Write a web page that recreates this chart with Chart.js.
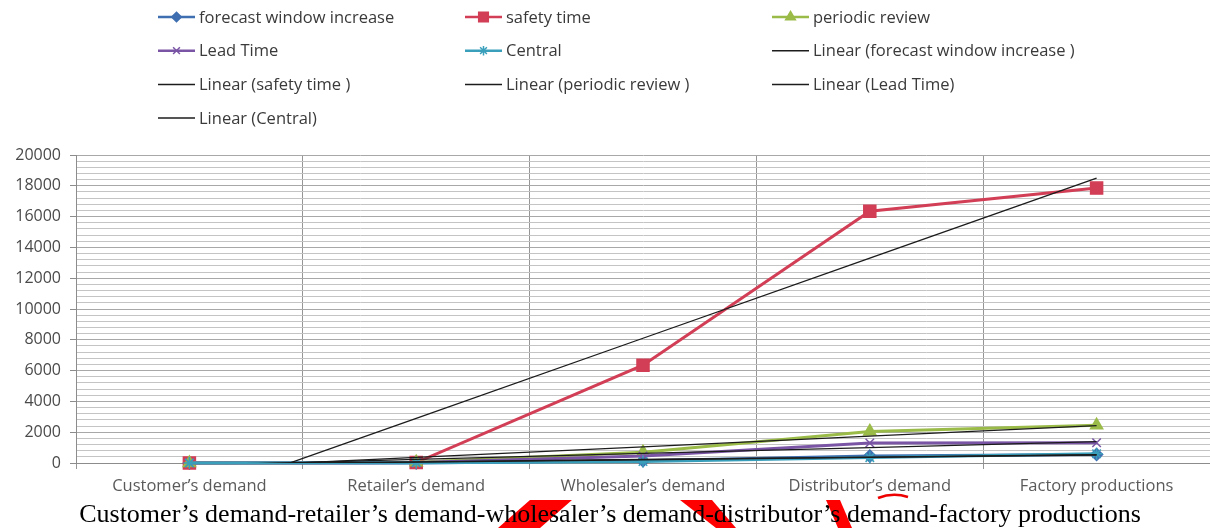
<!DOCTYPE html>
<html>
<head>
<meta charset="utf-8">
<script src="https://cdn.jsdelivr.net/npm/chart.js@4/dist/chart.umd.min.js"></script>
<style>
  html, body { margin: 0; padding: 0; background: #fff; overflow: hidden; }
  #wrap { position: relative; width: 1210px; height: 528px; }
  #c { position: absolute; left: 0; top: 0; }
  #marks { position: absolute; left: 0; top: 0; }
  #caption {
    position: absolute; left: 0; top: 499px; width: 1220px;
    text-align: center; white-space: nowrap;
    font-family: "Liberation Serif", "Times New Roman", serif;
    font-size: 26px; line-height: 30px; color: #000;
  }
</style>
</head>
<body>
<div id="wrap">
  <canvas id="c" width="1210" height="528"></canvas>
  <svg id="marks" width="1210" height="528">
    <polygon points="530,500 572,500 540,528 498,528" fill="#f00"/>
    <polygon points="680,500 712,500 736,528 716,528" fill="#f00"/>
    <polygon points="826,500 840,500 852,528 838,528" fill="#f00"/>
    <path d="M878,498 Q893,492 908,497" stroke="#e00" stroke-width="2.5" fill="none"/>
  </svg>
  <div id="caption">Customer’s demand-retailer’s demand-wholesaler’s demand-distributor’s demand-factory productions</div>
</div>
<script>
// Supply-chain stages along the x axis
const categories = ["Customer’s demand", "Retailer’s demand", "Wholesaler’s demand", "Distributor’s demand", "Factory productions"];

// Order variance per strategy at each stage
const forecastWindow = [0, 0, 150, 450, 550];
const safetyTime     = [0, 30, 6350, 16350, 17850];
const periodicReview = [0, 50, 700, 2050, 2450];
const leadTime       = [0, 30, 450, 1300, 1320];
const central        = [0, 10, 100, 350, 600];

// Linear trend lines for each strategy
const trendForecast  = [-80, 75, 230, 385, 540];
const trendSafety    = [-2300, 2900, 8100, 13300, 18500];
const trendPeriodic  = [-330, 360, 1050, 1740, 2430];
const trendLead      = [-160, 230, 620, 1000, 1390];
const trendCentral   = [-96, 58, 212, 366, 520];

// Y axis: labelled ticks every 2000, minor grid lines every 400
const yMin = 0, yMax = 20000, yMinorStep = 400, yLabelStep = 2000;

const FONT = "'Open Sans', 'Liberation Sans', sans-serif";

function series(label, data, color, pointStyle, radius, order) {
  return {
    label, data, borderColor: color, backgroundColor: color,
    pointBackgroundColor: color, pointBorderColor: color,
    borderWidth: 3, pointStyle, pointRadius: radius, pointBorderWidth: 1.5,
    pointHoverRadius: radius, tension: 0, clip: 12, order
  };
}
function trend(label, data) {
  return {
    label, data, borderColor: "#1c1c1c", backgroundColor: "#1c1c1c",
    borderWidth: 1.3, pointRadius: 0, pointHoverRadius: 0, tension: 0, order: 0
  };
}

const datasets = [
  series("forecast window increase", forecastWindow, "#3f6fb0", "rectRot", 6, 5),
  series("safety time", safetyTime, "#d23e55", "rect", 8.5, 4),
  series("periodic review", periodicReview, "#9bbb48", "triangle", 7, 3),
  series("Lead Time", leadTime, "#7a55a5", "crossRot", 6, 2),
  series("Central", central, "#3a9fbb", "star", 6, 1),
  trend("Linear (forecast window increase )", trendForecast),
  trend("Linear (safety time )", trendSafety),
  trend("Linear (periodic review )", trendPeriodic),
  trend("Linear (Lead Time)", trendLead),
  trend("Linear (Central)", trendCentral)
];

// Three-column legend drawn above the plot
const legendLayout = { cols: [158, 465, 772], top: 17, rowGap: 33.7, swatch: 37, textGap: 4 };
const gridLegend = {
  id: "gridLegend",
  afterDraw(chart) {
    const ctx = chart.ctx;
    ctx.save();
    chart.data.datasets.forEach((ds, i) => {
      const x = legendLayout.cols[i % 3];
      const y = legendLayout.top + Math.floor(i / 3) * legendLayout.rowGap;
      ctx.strokeStyle = ds.borderColor;
      ctx.lineWidth = ds.pointRadius ? 2.5 : 1.5;
      ctx.beginPath();
      ctx.moveTo(x, y);
      ctx.lineTo(x + legendLayout.swatch, y);
      ctx.stroke();
      if (ds.pointRadius) {
        ctx.fillStyle = ds.pointBackgroundColor;
        ctx.strokeStyle = ds.pointBorderColor;
        ctx.lineWidth = 1.5;
        Chart.helpers.drawPoint(ctx, {
          pointStyle: ds.pointStyle, radius: ds.pointRadius * 0.8,
          borderWidth: 1.5, rotation: 0
        }, x + legendLayout.swatch / 2, y);
      }
      ctx.fillStyle = "#3a3a3a";
      ctx.font = "16.5px " + FONT;
      ctx.textBaseline = "middle";
      ctx.textAlign = "left";
      ctx.fillText(ds.label, x + legendLayout.swatch + legendLayout.textGap, y + 1);
    });
    ctx.restore();
  }
};

new Chart(document.getElementById("c"), {
  type: "line",
  data: { labels: categories, datasets },
  plugins: [gridLegend],
  options: {
    responsive: false,
    animation: false,
    events: [],
    layout: { autoPadding: false, padding: { top: 155, right: 0, bottom: 30, left: 0 } },
    plugins: { legend: { display: false }, tooltip: { enabled: false } },
    scales: {
      x: {
        type: "category",
        offset: true,
        grid: { offset: true, color: "#959595", lineWidth: 1, tickLength: 6, tickColor: "#959595" },
        border: { color: "#8c8c8c" },
        ticks: { color: "#5a5a5a", font: { family: FONT, size: 16.5 }, padding: 7, maxRotation: 0, autoSkip: false },
        afterFit(scale) { scale.height = 35; scale.paddingLeft = 0; scale.paddingRight = 0; }
      },
      y: {
        min: yMin, max: yMax,
        grid: {
          color: c => (c.tick && c.tick.value % yLabelStep === 0) ? "#a8a8a8" : "#c4c4c4",
          lineWidth: 1,
          tickLength: 6,
          tickColor: c => (c.tick && c.tick.value % yLabelStep === 0) ? "#8c8c8c" : "rgba(0,0,0,0)"
        },
        border: { color: "#8c8c8c" },
        ticks: {
          stepSize: yMinorStep, autoSkip: false,
          color: "#4a4a4a", font: { family: FONT, size: 16 }, padding: 9,
          callback: v => (v % yLabelStep === 0) ? String(v) : ""
        },
        afterFit(scale) { scale.width = 76; scale.paddingTop = 0; scale.paddingBottom = 0; }
      }
    }
  }
});
</script>
</body>
</html>
